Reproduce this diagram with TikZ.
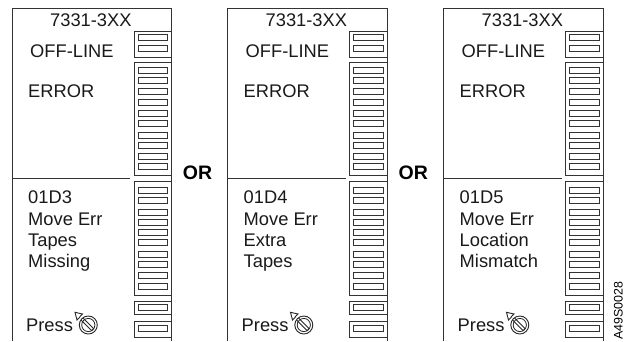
\documentclass[tikz,border=0pt]{standalone}
\usepackage{fontspec}
\setmainfont{Liberation Sans}
\tikzset{
  x=1pt,y=-1pt,
  edge/.style={draw=black!80,line width=0.9pt},
  slotbox/.style={draw=black!80,line width=0.9pt},
  lbl/.style={anchor=base west,inner sep=0pt,font=\fontsize{18.3}{18}\selectfont,text=black!90},
  orlbl/.style={anchor=base west,inner sep=0pt,font=\fontsize{19.5}{18}\selectfont\bfseries},
}
\newcommand{\slotat}[1]{\draw[slotbox] (138,#1) rectangle (167.5,#1+6);}
\newcommand{\groupbox}[2]{\draw[edge] (171,#1) -- (134,#1) -- (134,#2) -- (171,#2);}
\newcommand{\panelat}[5]{%
\begin{scope}[shift={(#1,0)}]
  \draw[edge] (12,341) -- (12,8) -- (171.5,8) -- (171.5,341);
  \draw[edge] (12,178.5) -- (130,178.5);
  \node[lbl] (t#2) at (50,26) {7331-3XX};
  \node[lbl] (o#2) at (30,57) {OFF-LINE};
  \node[lbl] (e#2) at (28,97) {ERROR};
  \node[lbl] (a#2) at (28,203) {#3};
  \node[lbl] (b#2) at (28,225.5) {Move Err};
  \node[lbl] (c#2) at (28,246.5) {#4};
  \node[lbl] (d#2) at (28,267) {#5};
  \node[lbl] (p#2) at (26,331) {Press};
  \groupbox{31}{57}
  \slotat{34.5}\slotat{45.5}
  \groupbox{62}{175}
  \foreach \y in {67.5,77.5,88.5,99.5,110,120.7,132,142.7,153.3,163.5}{\slotat{\y}}
  \groupbox{181.5}{295}
  \foreach \y in {187.5,197.7,209,219.3,229,239.3,251.7,261.7,272.7,283.3}{\slotat{\y}}
  \groupbox{301.5}{314.5}
  \slotat{304.5}
  \groupbox{321}{337}
  \slotat{325.5}
  % dial
  \draw[black!85,line width=0.9pt] (88.3,325) circle (9);
  \draw[black!85,line width=0.8pt] (88.3,325) circle (6.6);
  \draw[black!85,line width=0.8pt] (83,318) -- (93.6,328.6) -- (91.6,330.6) -- (81,320);
  \draw[black!85,line width=0.9pt,fill=white] (75,312.3) -- (82.5,314) -- (80,316.5) -- (79.5,317.5) -- (77,320) -- cycle;
\end{scope}}
\begin{document}
\begin{tikzpicture}
\useasboundingbox (0,0) rectangle (625,341);
\panelat{0}{x}{01D3}{Tapes}{Missing}
\panelat{215.5}{y}{01D4}{Extra}{Tapes}
\panelat{431.5}{z}{01D5}{Location}{Mismatch}
\node[orlbl] (or1) at (182.7,179) {OR};
\node[orlbl] (or2) at (398.5,179) {OR};
\node[anchor=base west,inner sep=0pt,rotate=90,font=\fontsize{12.4}{12}\selectfont] (code) at (622.5,340) {A49S0028};
\end{tikzpicture}
\end{document}
